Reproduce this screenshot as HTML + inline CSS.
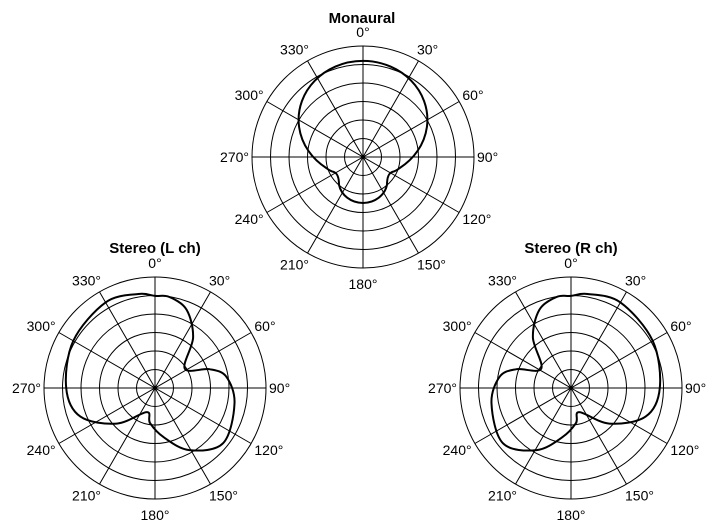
<!DOCTYPE html>
<html><head><meta charset="utf-8"><style>
html,body{margin:0;padding:0;background:#fff;}
svg{display:block;font-family:"Liberation Sans",Arial,sans-serif;}
</style></head><body>
<svg id="s" width="724" height="525" viewBox="0 0 724 525" xmlns="http://www.w3.org/2000/svg">
<text x="362" y="23" font-size="15" font-weight="bold" text-anchor="middle">Monaural</text>
<text x="155" y="253" font-size="15" font-weight="bold" text-anchor="middle">Stereo (L ch)</text>
<text x="571" y="253" font-size="15" font-weight="bold" text-anchor="middle">Stereo (R ch)</text>
<path d="M399.6,168.1 A64.4 58.8 0 1 0 326.4,168.1 Q330,171 334,172 Q339,174 339,184.75 A24.4 22.2 0 0 0 387,184.75 Q387,174 392,172 Q396,171 399.6,168.1 Z" fill="none" stroke="#000" stroke-width="2"/>
</svg>
<script>
var NS="http://www.w3.org/2000/svg",S=document.getElementById("s");
function el(t,a,txt){var e=document.createElementNS(NS,t);for(var k in a)e.setAttribute(k,a[k]);if(txt)e.textContent=txt;S.appendChild(e);return e;}
var R=111;
function grid(cx,cy){
 for(var i=1;i<=6;i++)el("circle",{cx:cx,cy:cy,r:R*i/6,fill:"none",stroke:"#000","stroke-width":1});
 for(var a=0;a<180;a+=30){var t=a*Math.PI/180;el("line",{x1:cx+R*Math.sin(t),y1:cy-R*Math.cos(t),x2:cx-R*Math.sin(t),y2:cy+R*Math.cos(t),stroke:"#000","stroke-width":1});}
 el("circle",{cx:cx,cy:cy,r:2,fill:"#000"});
 for(var a=0;a<360;a+=30){var t=a*Math.PI/180,rr=R+13;var x=cx+rr*Math.sin(t),y=cy-rr*Math.cos(t)+5;
  var anc="middle";if(a>0&&a<180){anc="start";x-=8;if(a==90)x-=2;}else if(a>180){anc="end";x+=8;if(a==270)x+=2;}
  if(a==0)y-=1;if(a==180)y+=3;
  el("text",{x:x,y:y,"font-size":14,"text-anchor":anc},a+"\u00b0");}
}
function curve(cx,cy,pts,mirror){
 var p=pts.map(function(q){var t=q[0]*Math.PI/180*(mirror?-1:1);return[cx+q[1]*R*Math.sin(t),cy-q[1]*R*Math.cos(t)];});
 var n=p.length,d="M"+p[0][0].toFixed(1)+","+p[0][1].toFixed(1);
 for(var i=0;i<n;i++){var p0=p[(i-1+n)%n],p1=p[i],p2=p[(i+1)%n],p3=p[(i+2)%n];
  d+="C"+(p1[0]+(p2[0]-p0[0])/6).toFixed(1)+","+(p1[1]+(p2[1]-p0[1])/6).toFixed(1)+" "+(p2[0]-(p3[0]-p1[0])/6).toFixed(1)+","+(p2[1]-(p3[1]-p1[1])/6).toFixed(1)+" "+p2[0].toFixed(1)+","+p2[1].toFixed(1);}
 el("path",{d:d+"Z",fill:"none",stroke:"#000","stroke-width":2});
}
var L=[[0,.83],[9,.83],[22,.76],[37,.57],[57,.32],[71,.52],[81,.65],[101,.73],[129,.79],[151,.64],[170,.45],[188,.32],[199,.23],[227,.47],[249,.72],[270,.80],[300,.85],[330,.89],[350,.86]];
grid(363,157);grid(155,388);grid(571,388);
curve(155,388,L,false);curve(571,388,L,true);
</script>
</body></html>
